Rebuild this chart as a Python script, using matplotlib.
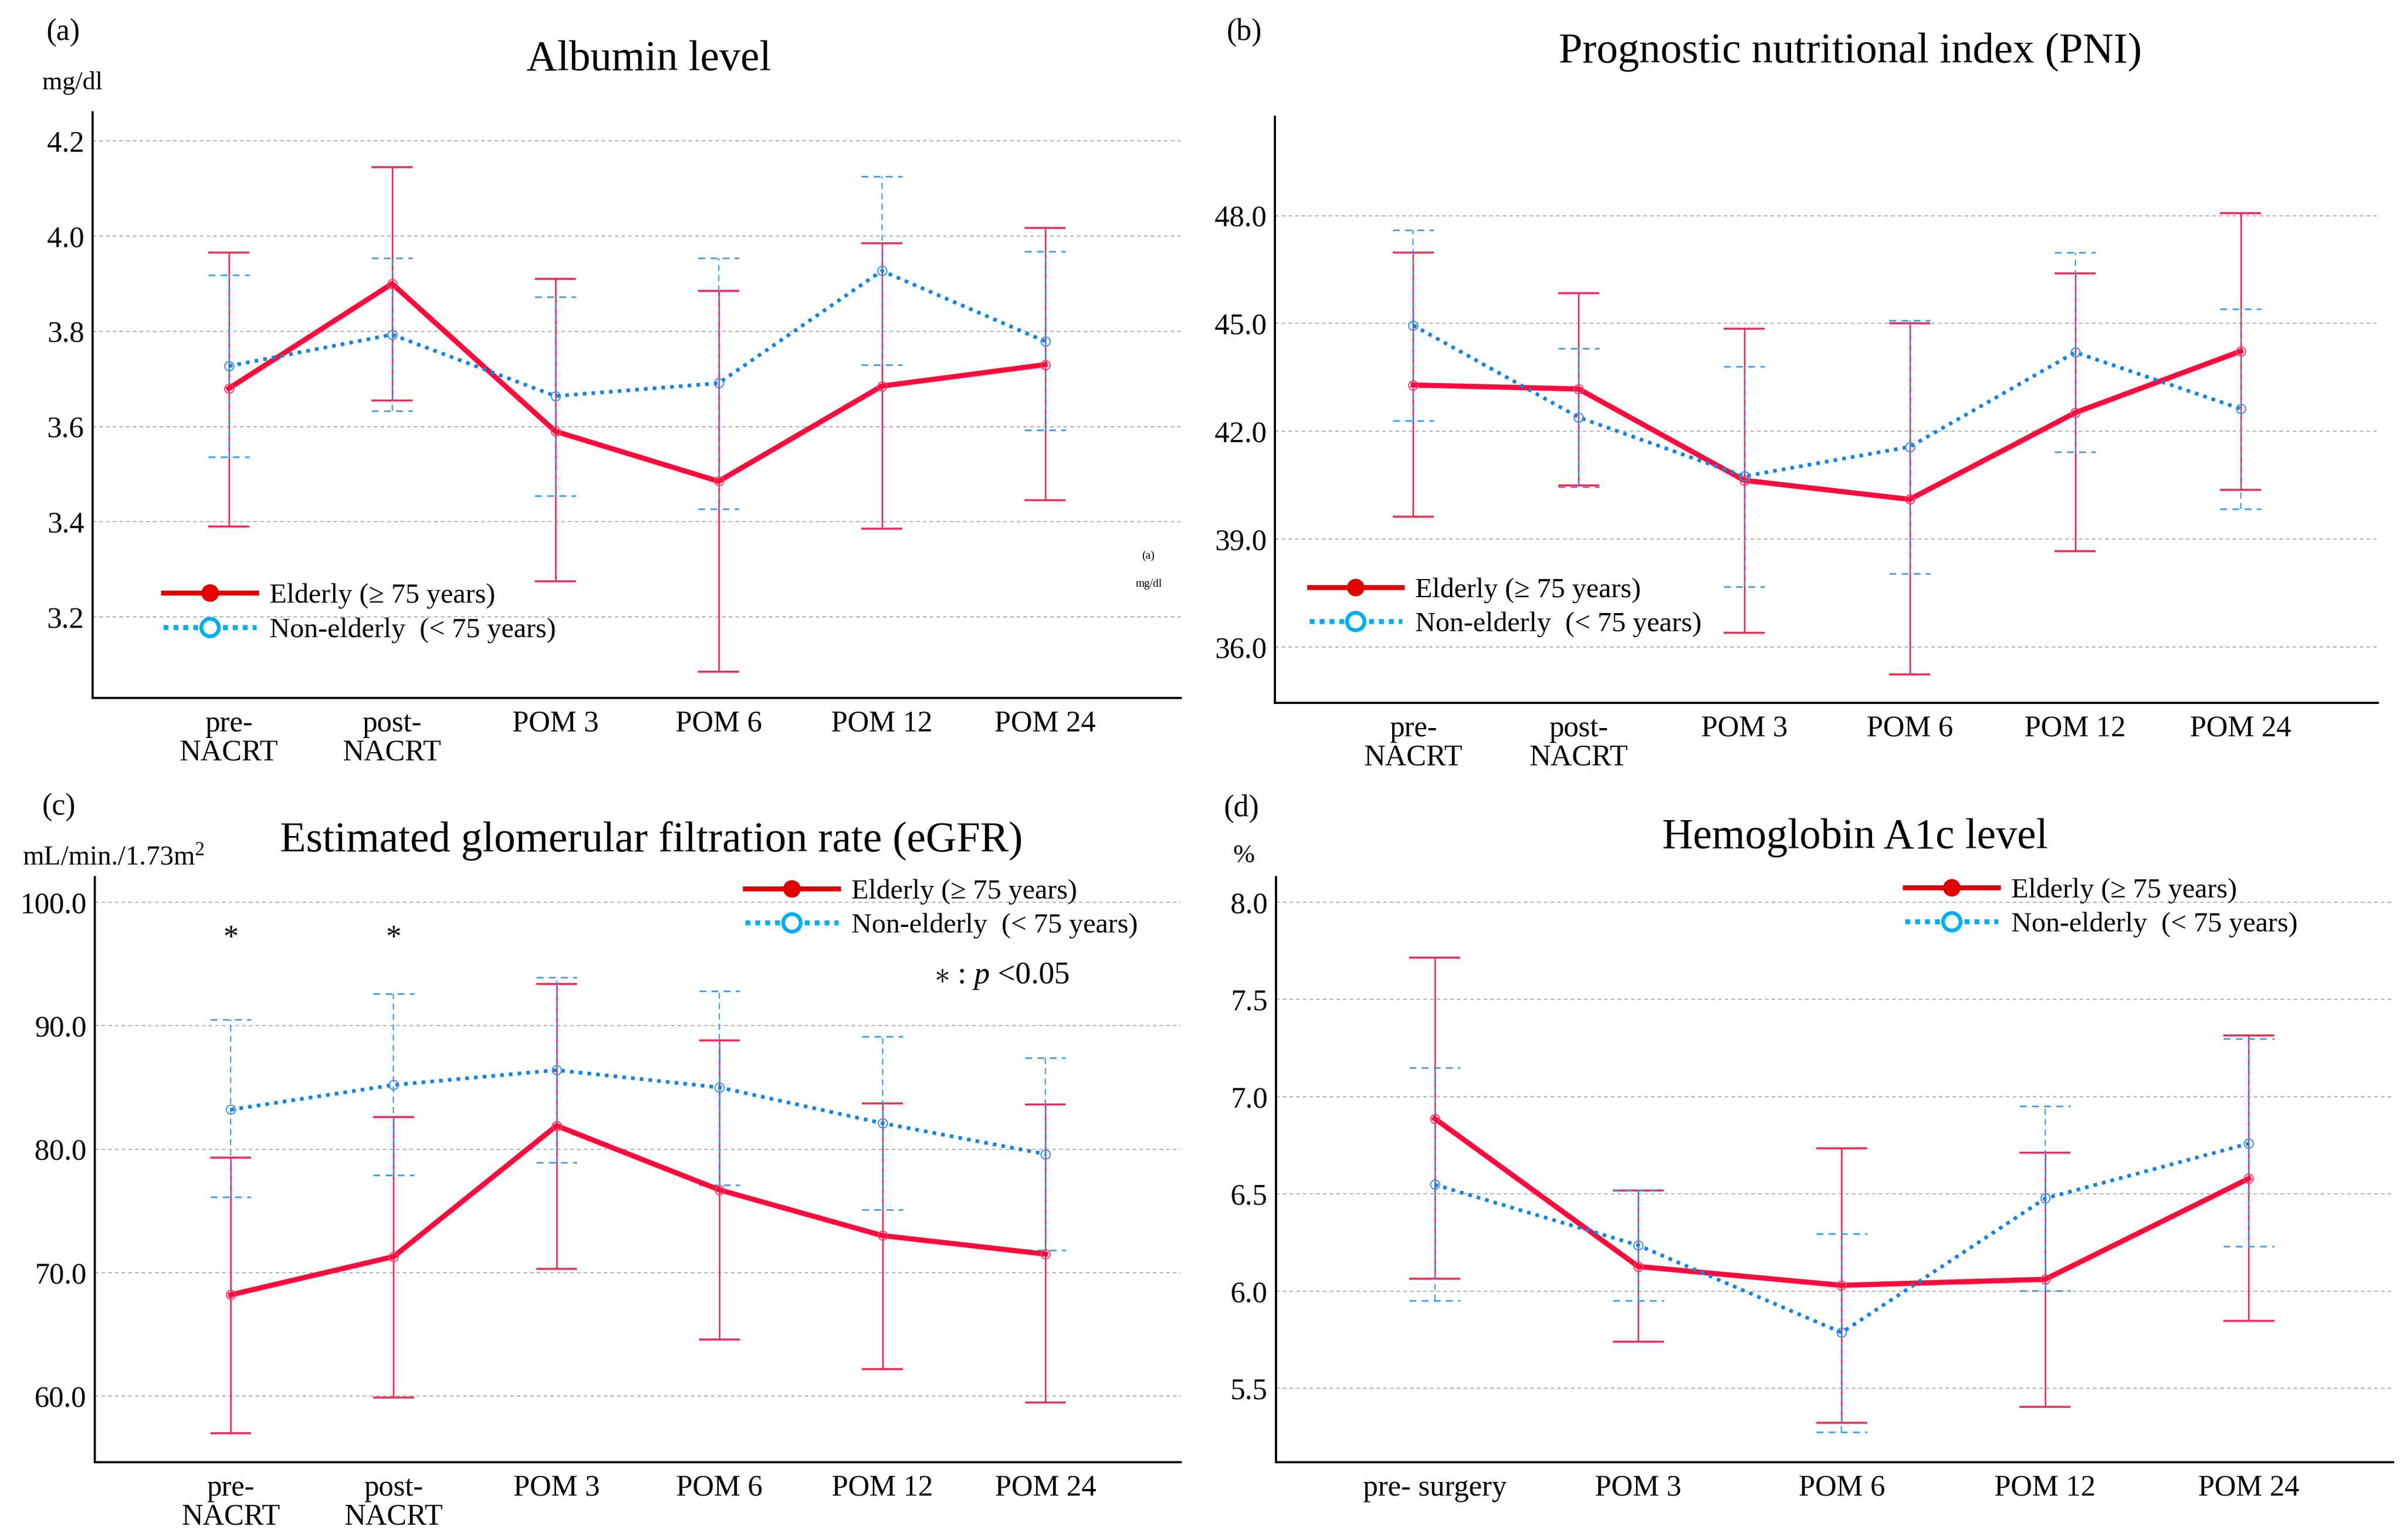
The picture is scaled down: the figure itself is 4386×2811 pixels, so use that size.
import matplotlib
matplotlib.use("Agg")
import matplotlib.pyplot as plt
from matplotlib.lines import Line2D
import numpy as np

plt.rcParams['font.family'] = ['Liberation Serif', 'DejaVu Serif']
plt.rcParams['mathtext.fontset'] = 'custom'
plt.rcParams['mathtext.rm'] = 'Liberation Serif'
plt.rcParams['mathtext.it'] = 'Liberation Serif:italic'

# ---------------- data ----------------
cats_6 = ['pre-\nNACRT', 'post-\nNACRT', 'POM 3', 'POM 6', 'POM 12', 'POM 24']
cats_5 = ['pre- surgery', 'POM 3', 'POM 6', 'POM 12', 'POM 24']

# (a) Albumin
alb_eld_mean = [3.68, 3.90, 3.59, 3.485, 3.685, 3.73]
alb_eld_lo   = [3.39, 3.655, 3.275, 3.085, 3.385, 3.445]
alb_eld_hi   = [3.965, 4.145, 3.91, 3.885, 3.985, 4.017]
alb_non_mean = [3.727, 3.793, 3.664, 3.691, 3.927, 3.779]
alb_non_lo   = [3.536, 3.633, 3.455, 3.427, 3.730, 3.592]
alb_non_hi   = [3.918, 3.954, 3.872, 3.954, 4.125, 3.968]

# (b) PNI
pni_eld_mean = [43.29, 43.18, 40.64, 40.11, 42.52, 44.23]
pni_eld_lo   = [39.63, 40.50, 36.40, 35.24, 38.67, 40.38]
pni_eld_hi   = [46.97, 45.85, 44.86, 45.01, 46.39, 48.07]
pni_non_mean = [44.95, 42.39, 40.75, 41.57, 44.20, 42.63]
pni_non_lo   = [42.29, 40.45, 37.68, 38.05, 41.42, 39.85]
pni_non_hi   = [47.60, 44.31, 43.80, 45.08, 46.97, 45.41]

# (c) eGFR
egfr_eld_mean = [68.2, 71.3, 81.9, 76.7, 73.0, 71.5]
egfr_eld_lo   = [57.0, 59.9, 70.3, 64.6, 62.2, 59.5]
egfr_eld_hi   = [79.3, 82.6, 93.4, 88.8, 83.7, 83.6]
egfr_non_mean = [83.2, 85.2, 86.4, 85.0, 82.1, 79.6]
egfr_non_lo   = [76.1, 77.9, 78.9, 77.1, 75.1, 71.8]
egfr_non_hi   = [90.5, 92.6, 93.9, 92.8, 89.1, 87.4]
egfr_sig = [0, 1]          # categories with p < 0.05

# (d) HbA1c
hba_eld_mean = [6.888, 6.127, 6.030, 6.061, 6.579]
hba_eld_lo   = [6.063, 5.739, 5.322, 5.404, 5.848]
hba_eld_hi   = [7.716, 6.518, 6.734, 6.713, 7.315]
hba_non_mean = [6.548, 6.236, 5.787, 6.477, 6.759]
hba_non_lo   = [5.952, 5.952, 5.274, 6.003, 6.231]
hba_non_hi   = [7.150, 6.520, 6.294, 6.952, 7.297]

lab_eld = 'Elderly (\u2265 75 years)'
lab_non = 'Non-elderly  (< 75 years)'

RED_LINE = '#FF0A3C'
RED_ERR = '#F0285A'
BLUE_LINE = '#1283E6'
BLUE_ERR = '#3A9AEE'
LEG_RED = '#E00000'
LEG_BLUE = '#00AEEF'

fig = plt.figure(figsize=(43.86, 28.11), dpi=100)

def panel(rect, cats, em, elo, ehi, nm, nlo, nhi, ylim, yticks, xlim):
    ax = fig.add_axes(rect)
    x = np.arange(len(cats))
    ax.set_xlim(*xlim)
    ax.set_ylim(*ylim)
    for t in yticks:
        ax.axhline(t, color='#B4B4B4', lw=1.6, ls=(0, (3, 2.5)), zorder=0)
    capw = 0.125
    # red error bars
    ax.vlines(x, elo, ehi, color=RED_ERR, lw=2.0, zorder=2)
    ax.hlines(elo, x - capw, x + capw, color=RED_ERR, lw=2.6, zorder=2)
    ax.hlines(ehi, x - capw, x + capw, color=RED_ERR, lw=2.6, zorder=2)
    # blue dashed error bars
    ax.vlines(x, nlo, nhi, color=BLUE_ERR, lw=1.6, linestyles=[(0, (5, 3.5))], zorder=3)
    ax.hlines(nlo, x - capw, x + capw, color=BLUE_ERR, lw=2.0, linestyles=[(0, (4.5, 3.5))], zorder=3)
    ax.hlines(nhi, x - capw, x + capw, color=BLUE_ERR, lw=2.0, linestyles=[(0, (4.5, 3.5))], zorder=3)
    # mean lines
    ax.plot(x, em, color=RED_LINE, lw=6.8, zorder=4, solid_joinstyle='miter')
    ax.plot(x, em, ls='none', marker='o', ms=12, mfc='none', mec='#F5406A', mew=1.5, zorder=5)
    ax.plot(x, nm, color=BLUE_LINE, lw=4.8, ls=(0, (1, 1.4)), dash_capstyle='butt', zorder=4)
    ax.plot(x, nm, ls='none', marker='o', ms=12, mfc='none', mec='#3A8FE0', mew=1.5, zorder=5)
    ax.set_xticks(x)
    ax.set_xticklabels(cats, fontsize=39, linespacing=1.05)
    ax.set_yticks(yticks)
    ax.set_yticklabels(['%.1f' % t for t in yticks], fontsize=39)
    ax.tick_params(axis='both', length=0)
    ax.tick_params(axis='x', pad=16)
    ax.tick_params(axis='y', pad=11)
    for s in ['top', 'right']:
        ax.spines[s].set_visible(False)
    for s in ['left', 'bottom']:
        ax.spines[s].set_linewidth(2.8)
        ax.spines[s].set_color('black')
    return ax

def add_legend(ax, anchor):
    h1 = Line2D([], [], color=LEG_RED, lw=6.5, marker='o', ms=22, mfc=LEG_RED, mec=LEG_RED)
    h2 = Line2D([], [], color=LEG_BLUE, lw=6.5, ls=(0, (1, 1)), marker='o', ms=23,
                mfc='white', mec=LEG_BLUE, mew=5)
    leg = ax.legend([h1, h2], [lab_eld, lab_non], loc='center left', bbox_to_anchor=anchor,
                    frameon=False, fontsize=37, handlelength=3.3, handletextpad=0.47,
                    labelspacing=0.3, borderpad=0, borderaxespad=0, numpoints=1)
    return leg

xl6 = (-0.835, 5.83)
axa = panel([0.0385, 0.5468, 0.4528, 0.3803], cats_6, alb_eld_mean, alb_eld_lo, alb_eld_hi,
            alb_non_mean, alb_non_lo, alb_non_hi, (3.03, 4.26),
            [3.2, 3.4, 3.6, 3.8, 4.0, 4.2], xl6)
add_legend(axa, (0.065, 0.145))
axa.text(0.97, 0.241, '(a)', transform=axa.transAxes, fontsize=15, ha='center', va='center')
axa.text(0.971, 0.194, 'mg/dl', transform=axa.transAxes, fontsize=15, ha='center', va='center')

axb = panel([0.5306, 0.5436, 0.4590, 0.3806], cats_6, pni_eld_mean, pni_eld_lo, pni_eld_hi,
            pni_non_mean, pni_non_lo, pni_non_hi, (34.45, 50.75),
            [36.0, 39.0, 42.0, 45.0, 48.0], xl6)
add_legend(axb, (0.031, 0.163))

axc = panel([0.0394, 0.0505, 0.4519, 0.380], cats_6, egfr_eld_mean, egfr_eld_lo, egfr_eld_hi,
            egfr_non_mean, egfr_non_lo, egfr_non_hi, (54.64, 102.04),
            [60.0, 70.0, 80.0, 90.0, 100.0], xl6)
add_legend(axc, (0.599, 0.946))
for i in egfr_sig:
    axc.text(i, 97.0, '*', fontsize=40, ha='center', va='center')
axc.text(0.773, 0.818, r'$\ast$ : $p$ <0.05', transform=axc.transAxes, fontsize=41,
         ha='left', va='baseline')

axd = panel([0.5310, 0.0505, 0.4649, 0.380], cats_5, hba_eld_mean, hba_eld_lo, hba_eld_hi,
            hba_non_mean, hba_non_lo, hba_non_hi, (5.12, 8.13),
            [5.5, 6.0, 6.5, 7.0, 7.5, 8.0], (-0.78, 4.71))
add_legend(axd, (0.563, 0.948))

# titles, panel letters, units
fig.text(0.270, 0.961, 'Albumin level', fontsize=56, ha='center', va='center')
fig.text(0.770, 0.966, 'Prognostic nutritional index (PNI)', fontsize=56, ha='center', va='center')
fig.text(0.271, 0.454, 'Estimated glomerular filtration rate (eGFR)', fontsize=56, ha='center', va='center')
fig.text(0.772, 0.456, 'Hemoglobin A1c level', fontsize=56, ha='center', va='center')

fig.text(0.0264, 0.979, '(a)', fontsize=40, ha='center', va='center')
fig.text(0.5178, 0.979, '(b)', fontsize=40, ha='center', va='center')
fig.text(0.0244, 0.476, '(c)', fontsize=40, ha='center', va='center')
fig.text(0.5167, 0.475, '(d)', fontsize=40, ha='center', va='center')

fig.text(0.0176, 0.946, 'mg/dl', fontsize=34, ha='left', va='center')
fig.text(0.0093, 0.443, 'mL/min./1.73m$^2$', fontsize=36, ha='left', va='center')
fig.text(0.5175, 0.444, '%', fontsize=34, ha='center', va='center')

fig.savefig('out.png', dpi=100, facecolor='white')
